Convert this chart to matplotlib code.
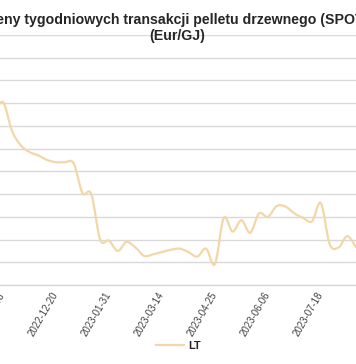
import numpy as np
import pandas as pd
import matplotlib
matplotlib.use("Agg")
import matplotlib.pyplot as plt
import matplotlib.transforms as mtransforms
from matplotlib.path import Path
from matplotlib.patches import PathPatch
from matplotlib.lines import Line2D

plt.rcParams["font.family"] = ["Liberation Sans", "DejaVu Sans"]

# weekly SPOT prices, LT (Eur/GJ)
weeks = pd.date_range("2022-11-01", periods=42, freq="7D")
lt_prices = [
    23.0, 24.1, 21.6, 20.3, 19.7, 19.4, 19.0, 18.8, 18.8, 18.7,
    16.1, 16.0, 12.0, 11.9, 11.0, 11.8, 11.3, 10.55, 10.7, 10.9,
    11.1, 11.2, 10.9, 10.5, 11.2, 9.85, 13.9, 12.7, 13.7, 12.6,
    14.3, 14.0, 14.95, 14.9, 14.3, 13.9, 13.6, 15.2, 11.6, 11.3,
    12.3, 11.3,
]
tick_labels = ["2022-11-08", "2022-12-20", "2023-01-31", "2023-03-14",
               "2023-04-25", "2023-06-06", "2023-07-18", "2023-08-29"]

line_color = "#F2D7A8"
grid_color = "#D9D9D9"
text_color = "#404040"

x = np.arange(len(lt_prices), dtype=float) - 1  # first week sits left of the crop
y = np.asarray(lt_prices, dtype=float)


def smooth_path(xs, ys):
    # Catmull-Rom style bezier through the weekly points (like a smoothed Excel line)
    pts = np.column_stack([xs, ys])
    verts = [pts[0]]
    codes = [Path.MOVETO]
    n = len(pts)
    for i in range(n - 1):
        p0 = pts[max(i - 1, 0)]
        p1 = pts[i]
        p2 = pts[i + 1]
        p3 = pts[min(i + 2, n - 1)]
        c1 = p1 + (p2 - p0) / 6
        c2 = p2 - (p3 - p1) / 6
        verts += [c1, c2, p2]
        codes += [Path.CURVE4] * 3
    return Path(verts, codes)


fig = plt.figure(figsize=(3.56, 3.64), dpi=100)
ax = fig.add_axes((0.0, 0.217, 1.0, 0.687))

ax.add_patch(PathPatch(smooth_path(x, y), facecolor="none",
                       edgecolor=line_color, linewidth=1.6, capstyle="round"))

ax.set_yticks(np.arange(8, 31, 2))
ax.set_xticks(np.arange(0, 43, 6))
# limits after the ticks, set_xticks would widen them otherwise
ax.set_xlim(-0.34, 39.98)
ax.set_ylim(8, 30)
ax.yaxis.grid(True, color=grid_color, linewidth=1.0)
ax.set_axisbelow(True)
for side in ["top", "left", "right"]:
    ax.spines[side].set_visible(False)
ax.spines["bottom"].set_color(grid_color)
ax.spines["bottom"].set_linewidth(1.0)

ax.set_xticklabels(tick_labels, rotation=60, ha="right", va="top",
                   fontsize=6.9, color=text_color)
ax.tick_params(axis="x", length=0, pad=4)
ax.tick_params(axis="y", length=0, labelleft=False)
shift = mtransforms.ScaledTranslation(4 / 100, 0, fig.dpi_scale_trans)
for lbl in ax.get_xticklabels():
    lbl.set_transform(lbl.get_transform() + shift)

fig.text(0.497, 0.965, "Ceny tygodniowych transakcji pelletu drzewnego (SPOT)\n(Eur/GJ)",
         ha="center", va="top", fontsize=10.2, fontweight="bold",
         color="#262626", linespacing=1.2)

handle = Line2D([], [], color=line_color, linewidth=1.6)
fig.legend([handle], ["LT"], loc="center", bbox_to_anchor=(0.5, 0.05),
           frameon=False, handlelength=2.6, handletextpad=0.3,
           prop={"size": 8, "weight": "bold"}, labelcolor="#262626")

fig.savefig("out.png", dpi=100)
